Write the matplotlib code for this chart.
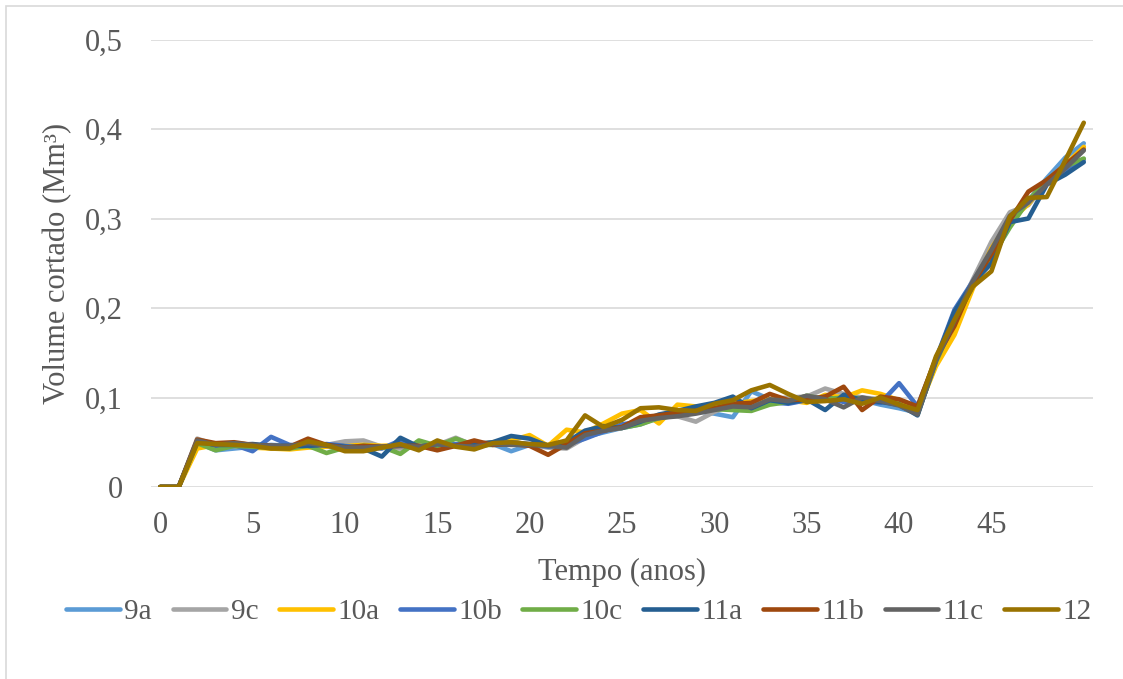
import matplotlib
matplotlib.use("Agg")
import matplotlib.pyplot as plt
from matplotlib.patches import Rectangle
from matplotlib.ticker import FuncFormatter

# Volume cortado por cenário, anos 0..50
anos = list(range(51))

v_9a = [0, 0, 0.050, 0.041, 0.043, 0.045, 0.047, 0.046, 0.046, 0.045, 0.044, 0.043, 0.044,
        0.046, 0.047, 0.046, 0.047, 0.048, 0.048, 0.040, 0.047, 0.046, 0.047, 0.056, 0.061,
        0.066, 0.070, 0.078, 0.081, 0.085, 0.082, 0.078, 0.107, 0.098, 0.094, 0.097, 0.100,
        0.096, 0.097, 0.092, 0.088, 0.083, 0.138, 0.183, 0.227, 0.262, 0.296, 0.320, 0.345,
        0.368, 0.384]
v_9c = [0, 0, 0.054, 0.047, 0.049, 0.047, 0.046, 0.044, 0.047, 0.047, 0.051, 0.052, 0.045,
        0.043, 0.045, 0.047, 0.055, 0.046, 0.048, 0.050, 0.047, 0.044, 0.043, 0.055, 0.063,
        0.066, 0.072, 0.080, 0.079, 0.073, 0.084, 0.092, 0.095, 0.098, 0.100, 0.101, 0.110,
        0.104, 0.100, 0.098, 0.093, 0.084, 0.142, 0.188, 0.232, 0.274, 0.307, 0.315, 0.340,
        0.356, 0.380]
v_10a = [0, 0, 0.043, 0.047, 0.046, 0.044, 0.043, 0.042, 0.044, 0.045, 0.046, 0.047, 0.046,
         0.047, 0.046, 0.045, 0.046, 0.047, 0.050, 0.052, 0.058, 0.046, 0.064, 0.061, 0.071,
         0.082, 0.086, 0.071, 0.092, 0.090, 0.091, 0.093, 0.096, 0.098, 0.097, 0.094, 0.103,
         0.100, 0.108, 0.104, 0.097, 0.085, 0.135, 0.170, 0.222, 0.267, 0.297, 0.316, 0.342,
         0.360, 0.380]
v_10b = [0, 0, 0.051, 0.046, 0.047, 0.040, 0.056, 0.047, 0.046, 0.048, 0.046, 0.045, 0.043,
         0.052, 0.044, 0.047, 0.048, 0.047, 0.049, 0.050, 0.048, 0.045, 0.047, 0.054, 0.062,
         0.070, 0.073, 0.077, 0.082, 0.085, 0.087, 0.090, 0.089, 0.095, 0.093, 0.097, 0.101,
         0.095, 0.096, 0.094, 0.116, 0.090, 0.143, 0.198, 0.230, 0.262, 0.300, 0.318, 0.342,
         0.352, 0.366]
v_10c = [0, 0, 0.049, 0.041, 0.046, 0.045, 0.044, 0.043, 0.046, 0.038, 0.044, 0.046, 0.045,
         0.037, 0.052, 0.046, 0.054, 0.047, 0.047, 0.048, 0.047, 0.046, 0.048, 0.058, 0.066,
         0.066, 0.070, 0.077, 0.080, 0.083, 0.087, 0.086, 0.085, 0.092, 0.095, 0.102, 0.098,
         0.100, 0.099, 0.097, 0.093, 0.081, 0.140, 0.185, 0.225, 0.256, 0.290, 0.320, 0.343,
         0.358, 0.367]
v_11a = [0, 0, 0.051, 0.047, 0.047, 0.048, 0.046, 0.046, 0.046, 0.047, 0.045, 0.043, 0.034,
         0.055, 0.045, 0.048, 0.046, 0.048, 0.050, 0.057, 0.054, 0.046, 0.050, 0.063, 0.068,
         0.066, 0.073, 0.081, 0.085, 0.090, 0.094, 0.101, 0.088, 0.097, 0.094, 0.098, 0.086,
         0.103, 0.097, 0.095, 0.092, 0.080, 0.142, 0.196, 0.228, 0.250, 0.296, 0.300, 0.338,
         0.349, 0.363]
v_11b = [0, 0, 0.053, 0.049, 0.050, 0.047, 0.046, 0.045, 0.054, 0.047, 0.044, 0.046, 0.045,
         0.046, 0.046, 0.041, 0.046, 0.052, 0.047, 0.048, 0.046, 0.036, 0.048, 0.060, 0.063,
         0.067, 0.078, 0.080, 0.083, 0.085, 0.088, 0.093, 0.094, 0.104, 0.097, 0.098, 0.101,
         0.112, 0.086, 0.101, 0.098, 0.090, 0.144, 0.180, 0.228, 0.260, 0.298, 0.330, 0.343,
         0.360, 0.377]
v_11c = [0, 0, 0.052, 0.047, 0.049, 0.047, 0.046, 0.046, 0.049, 0.046, 0.044, 0.044, 0.045,
         0.046, 0.045, 0.048, 0.046, 0.045, 0.048, 0.047, 0.047, 0.046, 0.044, 0.058, 0.063,
         0.066, 0.074, 0.077, 0.079, 0.082, 0.086, 0.090, 0.089, 0.098, 0.096, 0.102, 0.098,
         0.089, 0.100, 0.096, 0.091, 0.081, 0.141, 0.186, 0.230, 0.265, 0.303, 0.318, 0.338,
         0.356, 0.376]
v_12 = [0, 0, 0.049, 0.048, 0.047, 0.046, 0.043, 0.043, 0.051, 0.047, 0.040, 0.040, 0.044,
        0.048, 0.041, 0.052, 0.045, 0.042, 0.049, 0.050, 0.048, 0.047, 0.052, 0.080, 0.067,
        0.075, 0.088, 0.089, 0.086, 0.085, 0.093, 0.097, 0.108, 0.114, 0.104, 0.095, 0.096,
        0.098, 0.093, 0.100, 0.092, 0.086, 0.146, 0.187, 0.224, 0.241, 0.302, 0.323, 0.324,
        0.365, 0.407]

nomes = ["9a", "9c", "10a", "10b", "10c", "11a", "11b", "11c", "12"]
series = [v_9a, v_9c, v_10a, v_10b, v_10c, v_11a, v_11b, v_11c, v_12]
cores = ["#5B9BD5", "#A5A5A5", "#FFC000", "#4472C4", "#70AD47",
         "#255E91", "#9E480E", "#636363", "#997300"]

for s in series:
    assert len(s) == len(anos)

plt.rcParams['font.family'] = ['Liberation Serif', 'DejaVu Serif']
texto = "#595959"

fig = plt.figure(figsize=(11.23, 6.79), dpi=100)
ax = fig.add_axes([151 / 1123, 1 - 487 / 679, 942 / 1123, 447.5 / 679])

for nome, s, c in zip(nomes, series, cores):
    ax.plot(anos, s, color=c, lw=3.3, label=nome,
            solid_capstyle='round', solid_joinstyle='round')

ax.set_xlim(-0.5, 50.5)
ax.set_ylim(0, 0.5)
ax.set_xticks(range(0, 50, 5))
ax.set_yticks([0, 0.1, 0.2, 0.3, 0.4, 0.5])
ax.yaxis.set_major_formatter(FuncFormatter(lambda v, p: "0" if v == 0 else f"{v:.1f}".replace(".", ",")))
ax.grid(axis='y', color="#D9D9D9", lw=1.2)
ax.set_axisbelow(True)
for sp in ax.spines.values():
    sp.set_visible(False)
ax.tick_params(axis='both', length=0, labelsize=22, colors=texto)
ax.tick_params(axis='y', pad=20)
ax.tick_params(axis='x', pad=17)

ax.set_xlabel("Tempo (anos)", fontsize=22, color=texto)
ax.xaxis.set_label_coords(0.5, (487 - 572) / 447.5)
ax.xaxis.label.set_va('center')
ax.set_ylabel("Volume cortado (Mm³)", fontsize=22, color=texto)
ax.yaxis.set_label_coords((58 - 151) / 942, 0.5)
ax.yaxis.label.set_va('center')

fig.legend(loc='center', bbox_to_anchor=(579 / 1123, 1 - 612 / 679), ncol=9,
           frameon=False, fontsize=21, handlelength=1.85, handletextpad=0.15,
           columnspacing=0.7, labelcolor=texto)

# moldura da área do gráfico
fig.patches.append(Rectangle((6 / 1123, -0.02), 1.05, 1.02 - 6 / 679, transform=fig.transFigure,
                             fill=False, edgecolor="#D9D9D9", lw=1.2))

fig.savefig("out.png", dpi=100)
